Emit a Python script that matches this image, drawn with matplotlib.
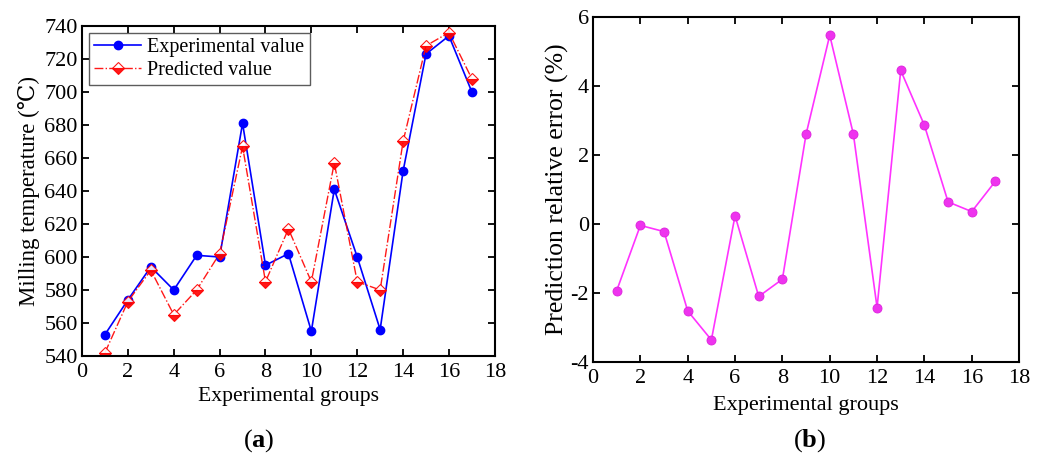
import matplotlib.pyplot as plt
import numpy as np

plt.rcParams['font.family'] = ['Liberation Serif', 'DejaVu Serif', 'DejaVu Sans']
plt.rcParams['mathtext.fontset'] = 'custom'
plt.rcParams['mathtext.rm'] = 'Liberation Serif'
plt.rcParams['mathtext.bf'] = 'Liberation Serif:bold'
plt.rcParams['axes.unicode_minus'] = False

groups = list(range(1, 18))
experimental = [553, 574, 594, 580, 601, 600, 681, 595, 602, 555, 641, 600, 556, 652, 723, 734, 700]
predicted = [542, 573, 592, 565, 580, 602, 667, 585, 617, 585, 657, 585, 580, 670, 728, 736, 708]
rel_error = [-1.93, -0.04, -0.22, -2.52, -3.36, 0.24, -2.1, -1.6, 2.6, 5.47, 2.6, -2.42, 4.45, 2.86, 0.64, 0.36, 1.24]


def style_axes(ax):
    ax.tick_params(direction='in', length=5, width=1.3, top=True, right=True, labelsize=16)
    ax.tick_params(axis='x', pad=5)
    ax.tick_params(axis='y', pad=3)
    for s in ax.spines.values():
        s.set_linewidth(1.5)


fig = plt.figure(figsize=(10.45, 4.54), dpi=100)

# (a)
ax1 = fig.add_axes([0.0785, 0.2159, 0.395, 0.7269])
ax1.plot(groups, experimental, color='blue', lw=1.2, marker='o', ms=6,
         label='Experimental value')
ax1.plot(groups, predicted, color='red', lw=1.0, ls='-.', marker='D', ms=6,
         fillstyle='bottom', markerfacecolor='red', markerfacecoloralt='white',
         markeredgecolor='red', markeredgewidth=0.8, label='Predicted value', alpha=0.9)
ax1.set_xlim(0, 18)
ax1.set_ylim(540, 740)
ax1.set_xticks(range(0, 19, 2))
ax1.set_yticks(range(540, 741, 20))
ax1.set_xlabel('Experimental groups', fontsize=15.6, labelpad=4)
ax1.set_ylabel('Milling temperature (\u2103)', fontsize=16.5, labelpad=3)
style_axes(ax1)
leg = ax1.legend(loc='upper left', fontsize=14.5, frameon=True, fancybox=False,
                 borderpad=0.25, labelspacing=0.2, handlelength=2.35, handletextpad=0.3,
                 borderaxespad=0.35)
leg.get_frame().set_edgecolor('#333333')
leg.get_frame().set_linewidth(1.0)

# (b)
ax2 = fig.add_axes([0.5675, 0.2026, 0.4077, 0.760])
ax2.plot(groups, rel_error, color='#ff33ff', lw=1.2, marker='o', ms=6.5,
         markerfacecolor='#ee33ee', markeredgecolor='#dd22dd', markeredgewidth=0.6)
ax2.set_xlim(0, 18)
ax2.set_ylim(-4, 6)
ax2.set_xticks(range(0, 19, 2))
ax2.set_yticks(range(-4, 7, 2))
ax2.set_xlabel('Experimental groups', fontsize=16, labelpad=6)
ax2.set_ylabel('Prediction relative error (%)', fontsize=18.5, labelpad=1)
style_axes(ax2)

fig.text(0.248, 0.017, r'($\mathbf{a}$)', fontsize=19, ha='center')
fig.text(0.775, 0.017, r'($\mathbf{b}$)', fontsize=19, ha='center')

fig.savefig('out.png', dpi=100)
